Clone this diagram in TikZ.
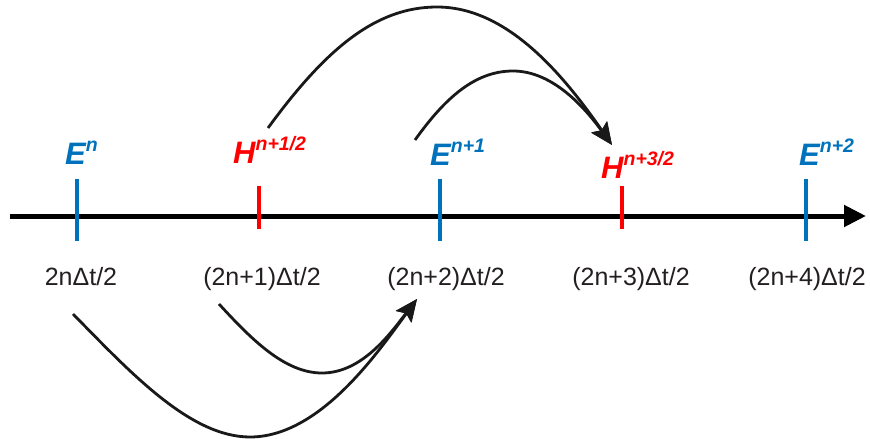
\documentclass[tikz,border=0pt]{standalone}
\usepackage{fontspec}
\setmainfont{Liberation Sans}
\usetikzlibrary{arrows.meta}
\definecolor{eblue}{RGB}{0,114,188}
\definecolor{hred}{RGB}{255,0,0}
\definecolor{tgray}{RGB}{35,31,32}
\newcommand{\fieldlab}[2]{{\fontsize{31}{31}\selectfont\bfseries\itshape #1\raisebox{13pt}{\fontsize{19.5}{19.5}\selectfont #2}}}
\tikzset{
  axisline/.style={line width=5pt, -{Triangle[length=22pt,width=21pt]}},
  etick/.style={line width=3.2pt, eblue},
  htick/.style={line width=3.2pt, hred},
  elab/.style={inner sep=0pt, anchor=base west, text=eblue},
  hlab/.style={inner sep=0pt, anchor=base west, text=hred},
  tlab/.style={inner sep=0pt, anchor=base, text=tgray, font=\fontsize{25}{25}\selectfont},
  curvearrow/.style={line width=2.8pt, black!90, -{Stealth[length=22pt,width=19pt,inset=4pt]}},
}
\begin{document}
\begin{tikzpicture}[x=1pt,y=-1pt]
\useasboundingbox (0,0) rectangle (870,439);
% axis
\coordinate (ax0) at (10,216);
\coordinate (ax1) at (866,216);
\draw[axisline] (ax0) -- (ax1);
% ticks
\coordinate (t1a) at (77,179); \coordinate (t1b) at (77,241);
\coordinate (t2a) at (259,186); \coordinate (t2b) at (259,229);
\coordinate (t3a) at (440,179); \coordinate (t3b) at (440,241);
\coordinate (t4a) at (622,186); \coordinate (t4b) at (622,229);
\coordinate (t5a) at (806,179); \coordinate (t5b) at (806,241);
\draw[etick] (t1a) -- (t1b);
\draw[htick] (t2a) -- (t2b);
\draw[etick] (t3a) -- (t3b);
\draw[htick] (t4a) -- (t4b);
\draw[etick] (t5a) -- (t5b);
% field labels
\node[elab] (en) at (65,164) {\fieldlab{E}{n}};
\node[hlab] (hn1) at (233,163) {\fieldlab{H}{n+1/2}};
\node[elab] (en1) at (430,165) {\fieldlab{E}{n+1}};
\node[hlab] (hn3) at (601,178) {\fieldlab{H}{n+3/2}};
\node[elab] (en2) at (799,165) {\fieldlab{E}{n+2}};
% time labels
\node[tlab] (l1) at (81,285) {2nΔt/2};
\node[tlab] (l2) at (262,285) {(2n+1)Δt/2};
\node[tlab] (l3) at (446,285) {(2n+2)Δt/2};
\node[tlab] (l4) at (631,285) {(2n+3)Δt/2};
\node[tlab] (l5) at (807,285) {(2n+4)Δt/2};
% upper arrows
\coordinate (ua1) at (268,128);
\coordinate (ua2) at (415,140);
\coordinate (utip) at (612,145);
\draw[curvearrow] (ua1) .. controls (325,50) and (375,7) .. (437,7) .. controls (505,7) and (560,70) .. (utip);
\draw[curvearrow] (ua2) .. controls (445,98) and (475,71) .. (513,71) .. controls (553,71) and (585,108) .. (utip);
% lower arrows
\coordinate (la1) at (73,314);
\coordinate (la2) at (219,304);
\coordinate (ltip) at (417,299);
\draw[curvearrow] (la1) .. controls (130,372) and (190,437) .. (250,437) .. controls (320,437) and (378,352) .. (ltip);
\draw[curvearrow] (la2) .. controls (252,340) and (285,373) .. (322,373) .. controls (362,373) and (390,334) .. (ltip);
\end{tikzpicture}
\end{document}
